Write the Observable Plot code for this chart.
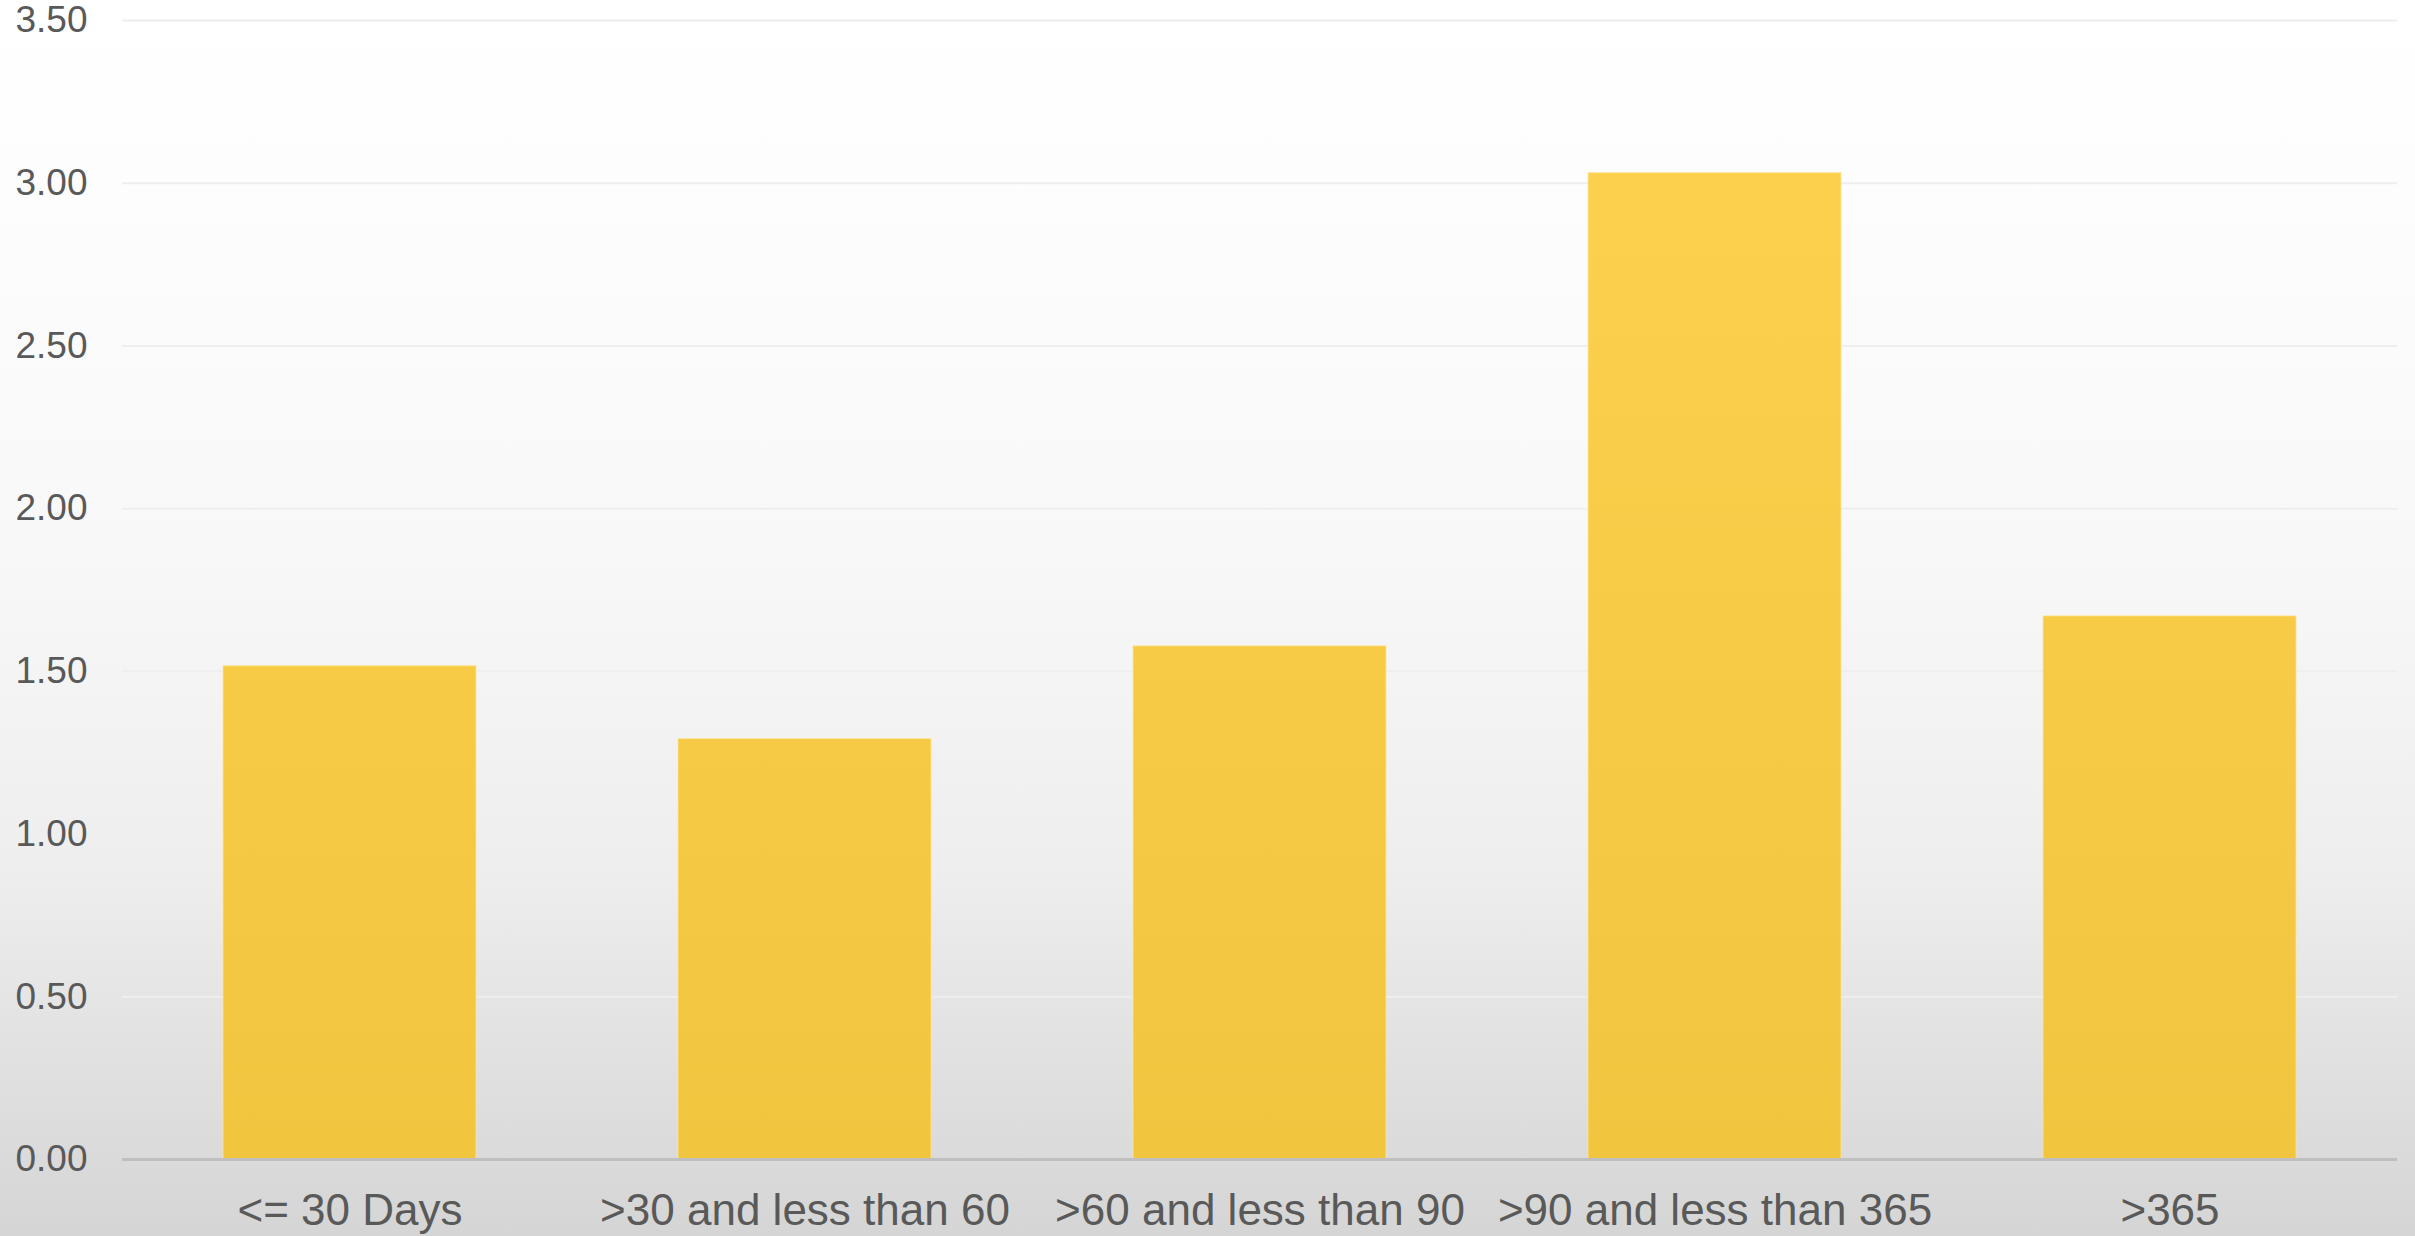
<!DOCTYPE html>
<html>
<head>
<meta charset="utf-8">
<script src="https://cdn.jsdelivr.net/npm/d3@7"></script>
<script src="https://cdn.jsdelivr.net/npm/@observablehq/plot@0.6"></script>
<style>
  html, body { margin: 0; padding: 0; }
  body { width: 2415px; height: 1236px; overflow: hidden;
         background: linear-gradient(to bottom, #ffffff 0%, #fdfdfd 15%, #f8f8f8 45%, #eeeeee 70%, #d5d5d5 100%); }
</style>
</head>
<body>
<div id="chart"></div>
<script>
const categories = ["<= 30 Days", ">30 and less than 60", ">60 and less than 90", ">90 and less than 365", ">365"];
const values = [1.516, 1.292, 1.577, 3.031, 1.669];
const yTicks = [0, 0.5, 1, 1.5, 2, 2.5, 3, 3.5];

const data = categories.map((c, i) => ({category: c, value: values[i]}));

const defs = () => {
  const svg = d3.create("svg:defs");
  const g = svg.append("linearGradient")
    .attr("id", "barGrad")
    .attr("gradientUnits", "userSpaceOnUse")
    .attr("x1", 0).attr("x2", 0)
    .attr("y1", 20).attr("y2", 1159);
  g.append("stop").attr("offset", "0%").attr("stop-color", "#fed24f");
  g.append("stop").attr("offset", "100%").attr("stop-color", "#f2c53f");
  return svg.node();
};

const chart = Plot.plot({
  width: 2415,
  height: 1236,
  marginTop: 20,
  marginBottom: 77,
  marginLeft: 122,
  marginRight: 18,
  style: {background: "transparent", fontFamily: "'Liberation Sans', Arial, sans-serif", color: "#595959"},
  x: {domain: categories, paddingInner: 0.444, paddingOuter: 0.222, label: null},
  y: {domain: [0, 3.5], label: null},
  marks: [
    defs,
    Plot.gridY(yTicks.filter(d => d > 0), {stroke: "#eeeeee", strokeOpacity: 1, strokeWidth: 2}),
    Plot.barY(data, {x: "category", y: "value", fill: "url(#barGrad)", stroke: "#fde6a0", strokeWidth: 1.2, strokeOpacity: 0.6}),
    Plot.ruleY([0], {stroke: "#bfbfbf", strokeWidth: 3}),
    Plot.axisY({ticks: yTicks, tickFormat: d => d.toFixed(2), tickSize: 0, tickPadding: 35, fontSize: 37, fill: "#595959", label: null}),
    Plot.axisX({tickSize: 0, tickPadding: 34, fontSize: 44, fill: "#595959", label: null})
  ]
});
document.getElementById("chart").appendChild(chart);
</script>
</body>
</html>
